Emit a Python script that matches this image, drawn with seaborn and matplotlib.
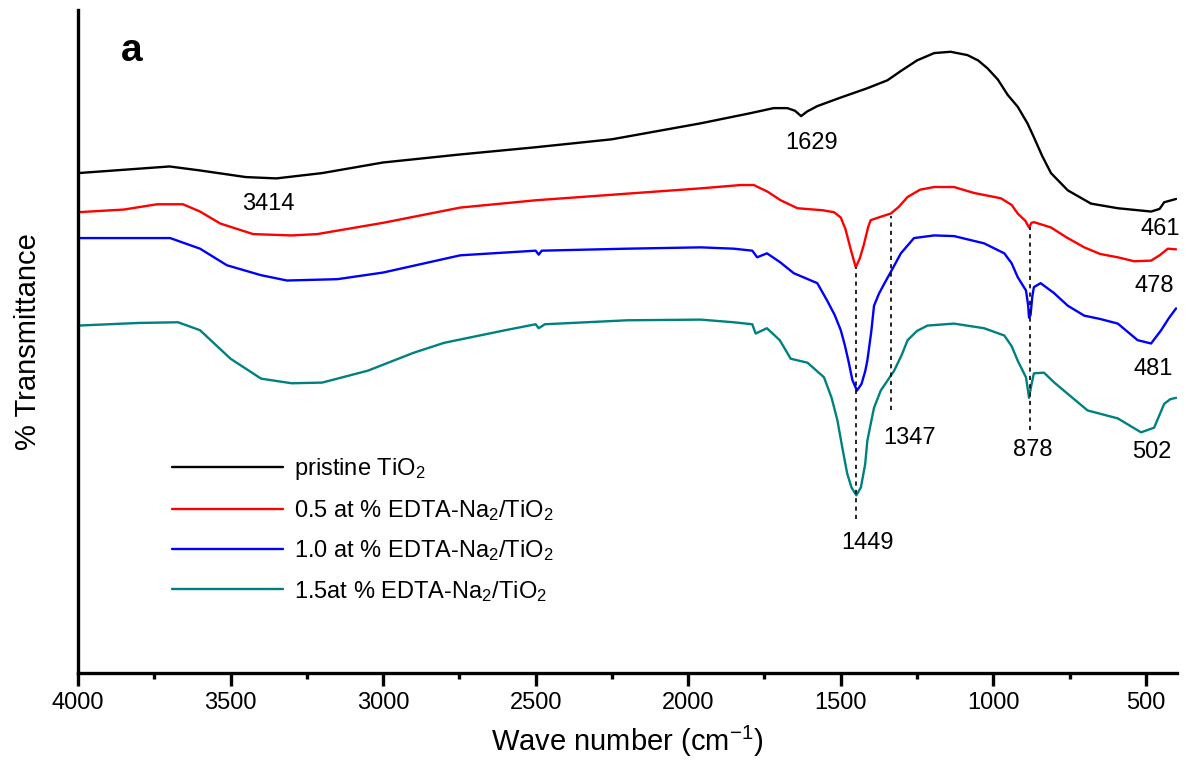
import numpy as np
import pandas as pd
import matplotlib
matplotlib.use("Agg")
import matplotlib.pyplot as plt
import seaborn as sns
from matplotlib.lines import Line2D
from matplotlib.ticker import MultipleLocator

# FTIR spectra: wave number (cm-1) and transmittance (a.u.)
wn_pristine = [4000, 3850, 3700, 3600, 3450, 3350, 3200, 3000, 2750, 2500, 2250, 1960, 1800, 1720, 1675,
               1650, 1630, 1610, 1577, 1500, 1413, 1347, 1303, 1250, 1194, 1140, 1085, 1050, 1019, 985,
               953, 920, 888, 867, 840, 811, 756, 680, 592, 483, 455, 440, 401]
t_pristine = [75.4, 75.9, 76.4, 75.8, 74.8, 74.6, 75.4, 77.0, 78.2, 79.3, 80.5, 82.9, 84.4, 85.2, 85.2,
              84.8, 84.0, 84.7, 85.5, 86.8, 88.2, 89.4, 90.8, 92.4, 93.5, 93.7, 93.2, 92.4, 91.2, 89.5,
              87.2, 85.4, 82.9, 80.8, 78.0, 75.4, 72.8, 70.8, 70.1, 69.6, 70.0, 71.0, 71.5]

wn_05 = [4000, 3850, 3741, 3656, 3600, 3534, 3426, 3300, 3216, 3000, 2747, 2500, 2200, 1959, 1828, 1785,
         1740, 1697, 1642, 1560, 1522, 1500, 1485, 1465, 1451, 1438, 1425, 1410, 1402, 1370, 1336, 1310,
         1281, 1240, 1194, 1129, 1063, 975, 940, 920, 895, 883, 875, 867, 811, 760, 702, 650, 592, 538,
         483, 455, 428, 401]
t_05 = [69.5, 69.9, 70.7, 70.7, 69.6, 67.8, 66.2, 66.0, 66.2, 67.9, 70.2, 71.3, 72.3, 73.1, 73.6, 73.6,
        72.6, 71.3, 70.1, 69.8, 69.5, 68.7, 67.0, 63.5, 61.2, 62.5, 64.5, 67.3, 68.3, 68.8, 69.3, 70.3,
        71.8, 72.9, 73.3, 73.3, 72.4, 71.6, 70.6, 69.3, 68.2, 67.2, 67.9, 68.0, 67.2, 65.7, 64.2, 63.2,
        62.7, 62.1, 62.2, 63.0, 64.0, 63.9]

wn_10 = [4000, 3850, 3698, 3600, 3512, 3400, 3315, 3150, 3000, 2747, 2500, 2490, 2480, 2200, 1959, 1851,
         1790, 1774, 1742, 1700, 1654, 1577, 1545, 1520, 1500, 1487, 1475, 1462, 1447, 1432, 1420, 1413,
         1400, 1391, 1375, 1360, 1330, 1303, 1260, 1194, 1129, 1030, 964, 940, 920, 893, 886, 883, 878,
         872, 867, 845, 801, 756, 702, 650, 592, 527, 483, 450, 425, 401]
t_10 = [65.6, 65.6, 65.6, 64.0, 61.5, 60.0, 59.2, 59.4, 60.4, 63.0, 63.7, 63.1, 63.7, 64.0, 64.2, 64.0,
        63.7, 62.7, 63.3, 62.0, 60.3, 58.8, 56.2, 54.0, 51.7, 49.5, 47.1, 44.2, 42.6, 43.6, 45.5, 47.1,
        51.5, 55.4, 57.2, 58.5, 61.0, 63.3, 65.6, 66.0, 65.9, 64.8, 63.3, 61.8, 59.7, 57.7, 55.5, 53.6,
        54.0, 56.9, 58.2, 58.8, 57.3, 55.4, 53.9, 53.4, 52.7, 50.2, 49.7, 51.7, 53.5, 55.0]

wn_15 = [4000, 3800, 3672, 3600, 3500, 3400, 3300, 3200, 3050, 2900, 2800, 2600, 2500, 2490, 2470, 2200,
         1959, 1851, 1790, 1779, 1742, 1700, 1664, 1609, 1555, 1530, 1511, 1495, 1479, 1465, 1449, 1434,
         1420, 1413, 1400, 1391, 1369, 1325, 1300, 1281, 1250, 1216, 1129, 1030, 964, 940, 920, 893, 886,
         883, 875, 867, 834, 800, 756, 691, 592, 516, 473, 440, 420, 401]
t_15 = [52.4, 52.8, 52.9, 51.7, 47.4, 44.4, 43.7, 43.8, 45.6, 48.3, 49.8, 51.7, 52.6, 52.0, 52.6, 53.2,
        53.3, 52.9, 52.6, 51.2, 52.0, 50.2, 47.4, 46.8, 44.6, 41.5, 38.1, 34.0, 30.1, 28.0, 26.8, 28.0,
        31.5, 35.0, 38.0, 40.0, 42.6, 45.6, 48.0, 50.2, 51.6, 52.4, 52.7, 52.0, 50.9, 49.3, 47.1, 44.6,
        42.5, 41.5, 43.5, 45.2, 45.3, 43.8, 42.1, 39.6, 38.4, 36.3, 37.0, 40.6, 41.3, 41.5]

samples = ["pristine TiO$_\\mathregular{2}$",
           "0.5 at % EDTA-Na$_\\mathregular{2}$/TiO$_\\mathregular{2}$",
           "1.0 at % EDTA-Na$_\\mathregular{2}$/TiO$_\\mathregular{2}$",
           "1.5at % EDTA-Na$_\\mathregular{2}$/TiO$_\\mathregular{2}$"]
colors = ["#000000", "#FF0000", "#0000FF", "#008080"]

# band positions marked with dashed guides: (wave number, top, bottom)
guide_wn = [1449, 1335, 880]
guide_top = [61.2, 69.0, 67.2]
guide_bottom = [23.3, 39.6, 36.6]

# peak labels: text, wave number, transmittance
peak_text = ["3414", "1629", "461", "478", "481", "1347", "878", "502", "1449"]
peak_wn = [3377, 1595, 453, 473, 476, 1274, 870, 479, 1411]
peak_t = [70.7, 79.9, 66.9, 58.3, 45.8, 35.5, 33.7, 33.4, 19.6]

frames = []
for name, wn, t in zip(samples, [wn_pristine, wn_05, wn_10, wn_15],
                       [t_pristine, t_05, t_10, t_15]):
    frames.append(pd.DataFrame({"wn": wn, "T": t, "sample": name}))
df = pd.concat(frames, ignore_index=True)

sns.set_style("ticks")
plt.rcParams["font.family"] = ["Liberation Sans", "DejaVu Sans"]
plt.rcParams["mathtext.fontset"] = "custom"
plt.rcParams["mathtext.rm"] = "Liberation Sans"
plt.rcParams["mathtext.it"] = "Liberation Sans:italic"
plt.rcParams["mathtext.bf"] = "Liberation Sans:bold"
plt.rcParams["text.color"] = "black"
plt.rcParams["axes.labelcolor"] = "black"
plt.rcParams["xtick.color"] = "black"

fig = plt.figure(figsize=(11.92, 7.69), dpi=100)
ax = fig.add_axes([78 / 1192, 96 / 769, 1099 / 1192, 663 / 769])

sns.lineplot(data=df, x="wn", y="T", hue="sample", hue_order=samples,
             palette=dict(zip(samples, colors)), estimator=None, sort=False,
             linewidth=1.7, legend=False, ax=ax)

ax.vlines(guide_wn, guide_bottom, guide_top, colors="black",
          linestyles=(0, (2.5, 2.5)), linewidth=1.2)

for s, x, y in zip(peak_text, peak_wn, peak_t):
    ax.text(x, y, s, fontsize=17, ha="center", va="center", color="black")

ax.text(3823, 93.8, "a", fontsize=28, fontweight="bold", ha="center", va="center")

ax.set_xlim(4000, 398)
ax.set_ylim(0, 100)
ax.xaxis.set_major_locator(MultipleLocator(500))
ax.xaxis.set_minor_locator(MultipleLocator(250))
ax.set_yticks([])
ax.tick_params(axis="x", which="major", direction="out", length=9, width=2.4,
               labelsize=17, pad=5)
ax.tick_params(axis="x", which="minor", direction="out", length=4.5, width=2.4)

for side in ["top", "right"]:
    ax.spines[side].set_visible(False)
for side in ["left", "bottom"]:
    ax.spines[side].set_linewidth(2.4)
    ax.spines[side].set_color("black")

ax.set_xlabel("Wave number (cm$^{\\mathregular{-1}}$)", fontsize=21, labelpad=7)
ax.set_ylabel("% Transmittance", fontsize=21, labelpad=26)

handles = [Line2D([], [], color=c, linewidth=1.7) for c in colors]
ax.legend(handles, samples, loc="upper left", bbox_to_anchor=(0.0856, 0.327),
          frameon=False, fontsize=17, handlelength=4.7, handletextpad=0.45,
          labelspacing=0.66, borderpad=0, borderaxespad=0)

fig.savefig("out.png", dpi=100)
